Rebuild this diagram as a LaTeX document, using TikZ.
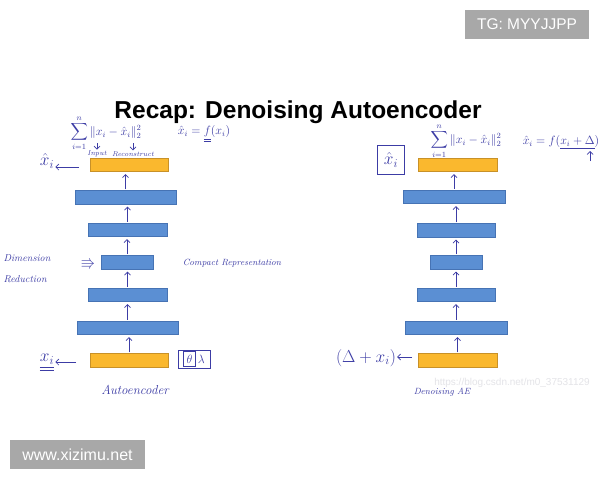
\documentclass[tikz,border=0pt]{standalone}
\usepackage{amsmath,amssymb}
\usepackage{fontspec}
\newfontfamily\arialf{Liberation Sans}
\usetikzlibrary{arrows.meta,calc}
\definecolor{ink}{RGB}{60,60,165}
\definecolor{bluebox}{RGB}{91,143,211}
\definecolor{blueedge}{RGB}{70,115,180}
\definecolor{orangebox}{RGB}{250,184,46}
\definecolor{orangeedge}{RGB}{200,145,40}
\definecolor{wmgray}{RGB}{168,168,168}
\definecolor{csdn}{RGB}{228,228,232}
\begin{document}
\begin{tikzpicture}[x=1pt,y=-1pt,
  hidbox/.style={draw=blueedge,fill=bluebox,line width=0.6pt,inner sep=0pt,minimum height=13.5pt},
  outbox/.style={draw=orangeedge,fill=orangebox,line width=0.6pt,inner sep=0pt,minimum height=13.5pt},
  arr/.style={draw=ink,line width=0.7pt,-{Straight Barb[length=3pt,width=6pt]}},
  uparr/.style={arr,shorten <=1pt,shorten >=2pt},
  handtxt/.style={text=ink,inner sep=1pt,font=\itshape\small},
  wm/.style={fill=wmgray,text=white,inner sep=0pt}]
\useasboundingbox (0,0) rectangle (600,480);
\fill[white] (0,0) rectangle (600,480);

% watermarks
\node[wm,minimum width=124pt,minimum height=29pt,font=\arialf\fontsize{15.5}{18}\selectfont] (tg) at (527,24.5) {TG: MYYJJPP};
\node[wm,minimum width=135pt,minimum height=29pt,font=\arialf\fontsize{16}{19}\selectfont] (site) at (77.5,454.5) {www.xizimu.net};

% title
\node[anchor=base,inner sep=0pt,font=\arialf\bfseries\fontsize{24.5}{28}\selectfont] (title) at (298,118) {Recap: Denoising Autoencoder};

% left stack
\node[outbox,minimum width=78pt] (L1) at (129,165) {};
\node[hidbox,minimum width=101pt] (L2) at (125.5,197.5) {};
\node[hidbox,minimum width=79pt] (L3) at (127.5,230) {};
\node[hidbox,minimum width=52pt] (L4) at (127,262.5) {};
\node[hidbox,minimum width=79pt] (L5) at (127.5,295) {};
\node[hidbox,minimum width=101pt] (L6) at (127.5,328) {};
\node[outbox,minimum width=78pt] (L7) at (129,360.5) {};
\draw[uparr] (L7.north) -- (L7.north |- L6.south);
\draw[uparr] (L6.north) -- (L6.north |- L5.south);
\draw[uparr] (L5.north) -- (L5.north |- L4.south);
\draw[uparr] (L4.north) -- (L4.north |- L3.south);
\draw[uparr] (L3.north) -- (L3.north |- L2.south);
\draw[uparr] (L2.north) -- (L2.north |- L1.south);

% right stack
\node[outbox,minimum width=79pt] (R1) at (457.5,165) {};
\node[hidbox,minimum width=102pt] (R2) at (454,197) {};
\node[hidbox,minimum width=78pt] (R3) at (456,230.5) {};
\node[hidbox,minimum width=52pt] (R4) at (456,262.5) {};
\node[hidbox,minimum width=78pt] (R5) at (456,295) {};
\node[hidbox,minimum width=102pt] (R6) at (456,328) {};
\node[outbox,minimum width=79pt] (R7) at (457.5,360.5) {};
\draw[uparr] (R7.north) -- (R7.north |- R6.south);
\draw[uparr] (R6.north) -- (R6.north |- R5.south);
\draw[uparr] (R5.north) -- (R5.north |- R4.south);
\draw[uparr] (R4.north) -- (R4.north |- R3.south);
\draw[uparr] (R3.north) -- (R3.north |- R2.south);
\draw[uparr] (R2.north) -- (R2.north |- R1.south);

% left annotations
\node[handtxt,font=\large] (sumL) at (106,133) {$\displaystyle\sum_{i=1}^{n}\|x_i-\hat{x}_i\|_2^2$};
\node[handtxt,font=\scriptsize\itshape] (inp) at (97,154) {Input};
\node[handtxt,font=\scriptsize\itshape] (rec) at (133,154) {Reconstruct};
\coordinate (inA) at (97,143);
\coordinate (recA) at (133,143);
\draw[arr] (inA) -- (inp.north);
\draw[arr] (recA) -- (rec.north);
\node[handtxt,font=\large] (fL) at (204,134) {$\hat{x}_i=\underline{\underline{f}}(x_i)$};
\node[handtxt,font=\LARGE] (xhatL) at (47,161) {$\hat{x}_i$};
\coordinate (a1) at (79,167);
\draw[arr] (a1) -- (a1 -| xhatL.east);
\node[handtxt,align=left,font=\normalsize\itshape] (dimred) at (27,269) {Dimension\\[9pt]Reduction};
\node[text=ink,inner sep=0pt,font=\Large] (tri) at (88,264) {$\Rrightarrow$};
\node[handtxt] (compact) at (232,263) {Compact Representation};
\node[handtxt,font=\LARGE] (xin) at (47,363) {$\underline{\underline{x_i}}$};
\coordinate (a2) at (76,362);
\draw[arr] (a2) -- (a2 -| xin.east);
\node[draw=ink,line width=0.7pt,handtxt,font=\large,minimum width=32pt,minimum height=18pt] (hyp) at (194,359) {$\boxed{\theta}\,\lambda$};
\node[handtxt,font=\itshape\fontsize{13}{15}\selectfont] (aelbl) at (135,390) {Autoencoder};

% right annotations
\node[draw=ink,line width=0.7pt,handtxt,font=\LARGE,minimum width=27pt,minimum height=29pt] (xbox) at (391,160) {$\hat{x}_i$};
\node[handtxt,font=\large] (sumR) at (466,141) {$\displaystyle\sum_{i=1}^{n}\|x_i-\hat{x}_i\|_2^2$};
\node[handtxt,font=\large] (fR) at (561,142) {$\hat{x}_i=f(\underline{x_i+\Delta})$};
\coordinate (dA) at (590,161);
\coordinate (dB) at (590,151);
\draw[arr] (dA) -- (dB);
\node[handtxt,font=\LARGE] (noisy) at (366,358) {$(\Delta+x_i)$};
\coordinate (a3) at (412,357);
\draw[arr] (a3) -- (a3 -| noisy.east);
\node[handtxt] (dalbl) at (442,392) {Denoising AE};
\node[text=csdn,inner sep=0pt,font=\arialf\fontsize{10}{12}\selectfont] (csdnwm) at (512,383) {https://blog.csdn.net/m0\_37531129};
\end{tikzpicture}
\end{document}
